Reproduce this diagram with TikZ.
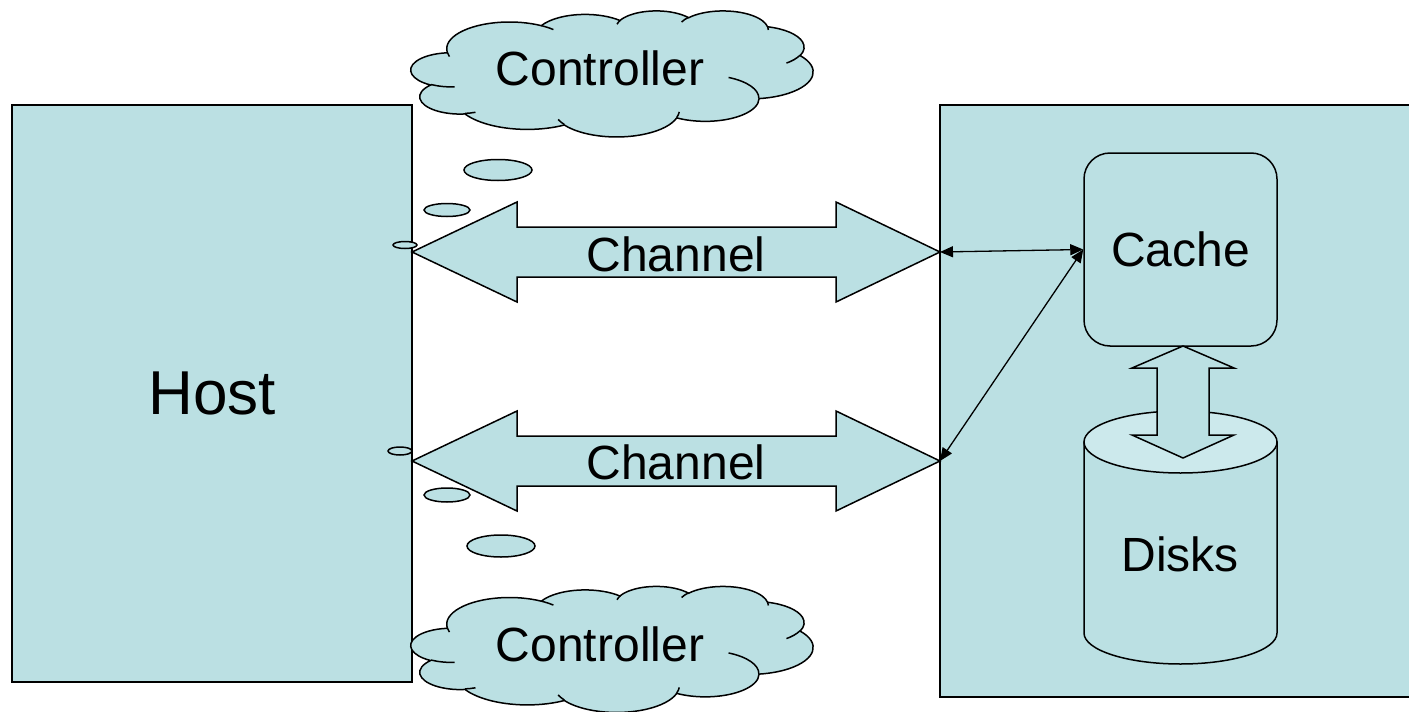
\documentclass[tikz,border=0pt]{standalone}
\usepackage{fontspec}
\setmainfont{Liberation Sans}
\usetikzlibrary{arrows.meta}
\definecolor{boxfill}{RGB}{187,224,227}
\definecolor{toplight}{RGB}{204,233,236}
\tikzset{
  pa/.style n args={4}{x radius=#1, y radius=#2,
    start angle={atan2((#1)*sin(#3),(#2)*cos(#3))},
    delta angle={mod(atan2((#1)*sin((#3)+(#4)),(#2)*cos((#3)+(#4)))-atan2((#1)*sin(#3),(#2)*cos(#3))+720,360)}},
  shapeline/.style={draw=black, line width=1.5pt, fill=boxfill},
  strokeonly/.style={draw=black, line width=1.5pt},
  lbl/.style={font=\fontsize{48}{56}\selectfont, inner sep=0pt},
  conn/.style={line width=1.3pt, {Triangle[length=13pt,width=11pt]}-{Triangle[length=13pt,width=11pt]}},
}
\newcommand\pptcloud[2]{%
  \begin{scope}[shift={(#1,#2)}, x=0.93056pt, y=-0.29167pt]
    \draw[shapeline] (39.00,143.70)
      arc[pa={67.53}{91.90}{-190.48748}{123.78053}]
      arc[pa={53.33}{72.67}{-144.10238}{89.94523}]
      arc[pa={43.65}{59.45}{-145.80792}{99.72302}]
      arc[pa={48.57}{65.95}{-130.98607}{117.24173}]
      arc[pa={53.33}{72.73}{-78.70888}{109.02692}]
      arc[pa={67.75}{92.20}{-46.26725}{130.269}]
      arc[pa={57.85}{78.67}{0.62502}{114.03333}]
      arc[pa={67.52}{92.15}{22.4516}{115.17255}]
      arc[pa={77.20}{105.43}{66.24263}{75.71102}]
      arc[pa={43.60}{59.18}{-274.94208}{146.73557}]
      arc[pa={43.45}{59.45}{-246.8285}{152.51885}]
      -- cycle;
    \draw[strokeonly]
      (46.93,261.77) arc[pa={43.45}{59.45}{86.742}{26.4295}]
      (69.28,348.99) arc[pa={43.60}{59.18}{73.61047}{11.44747}]
      (164.78,390.90) arc[pa={67.52}{92.15}{137.62415}{14.0811}]
      (288.27,347.51) arc[pa={67.52}{92.15}{6.45327}{15.99835}]
      (341.29,229.54) arc[pa={57.85}{78.67}{-70.29235}{70.917}]
      (417.98,153.54) arc[pa={53.33}{72.73}{30.31803}{27.7515}]
      (383.24,54.26) arc[pa={48.57}{65.95}{-13.74433}{14.8589}]
      (290.78,39.52) arc[pa={48.57}{65.95}{-149.18145}{18.19537}]
      (221.41,47.20) arc[pa={43.65}{59.45}{-163.49427}{17.68635}]
      (140.00,51.92) arc[pa={67.53}{91.90}{-66.70695}{12.31935}]
      (41.27,157.89) arc[pa={67.53}{91.90}{157.65435}{11.85817}];
  \end{scope}}
\begin{document}
\begin{tikzpicture}[x=1pt,y=-1pt,line join=miter]
\useasboundingbox (0,0) rectangle (1409,712);
\fill[white] (0,0) rectangle (1409,712);
% Host and storage boxes
\node[shapeline, rectangle, minimum width=400pt, minimum height=577pt, inner sep=0pt,
      font=\fontsize{62}{70}\selectfont] (host) at (212,393.5) {Host};
\node[shapeline, rectangle, minimum width=520pt, minimum height=592pt, inner sep=0pt] (stor) at (1200,401) {};
% Controller clouds
\pptcloud{411}{10.5}
\pptcloud{411}{586}
\node[lbl] (ctrl1) at (600,68) {Controller};
\node[lbl] (ctrl2) at (600,644) {Controller};
% Channel arrows
\coordinate (a1l) at (412,252);
\coordinate (a1r) at (940,252);
\coordinate (a2l) at (412,461);
\coordinate (a2r) at (940,461);
\draw[shapeline] (a1l) -- ++(105,-50) -- ++(0,25) -- ++(319,0) -- ++(0,-25) -- (a1r)
   -- ++(-104,50) -- ++(0,-25) -- ++(-319,0) -- ++(0,25) -- cycle;
\draw[shapeline] (a2l) -- ++(105,-50) -- ++(0,25) -- ++(319,0) -- ++(0,-25) -- (a2r)
   -- ++(-104,50) -- ++(0,-25) -- ++(-319,0) -- ++(0,25) -- cycle;
\node[lbl] (ch1) at (676,254) {Channel};
\node[lbl] (ch2) at (676,462) {Channel};
% thought bubbles
\draw[shapeline] (498,170) ellipse[x radius=34, y radius=10.5];
\draw[shapeline] (447,210) ellipse[x radius=23, y radius=6.5];
\draw[shapeline] (405,245) ellipse[x radius=12, y radius=3.5];
\draw[shapeline] (400,451) ellipse[x radius=12, y radius=4];
\draw[shapeline] (447,495) ellipse[x radius=23, y radius=7];
\draw[shapeline] (501,546) ellipse[x radius=34, y radius=11];
% Cache
\node[shapeline, rectangle, rounded corners=26pt, minimum width=193pt, minimum height=193pt,
      inner sep=0pt, font=\fontsize{48}{56}\selectfont] (cache) at (1180.5,249.5) {Cache};
% connectors
\draw[conn] (a1r) -- (cache.west);
\draw[conn] (a2r) -- (cache.west);
% Disks cylinder
\draw[shapeline] (1084,442) -- (1084,633) arc[x radius=96.5, y radius=31, start angle=180, end angle=0]
   -- (1277,442) -- cycle;
\draw[shapeline, fill=toplight] (1180.5,442) ellipse[x radius=96.5, y radius=31];
\node[lbl] (disks) at (1180,554) {Disks};
% Cache <-> Disks arrow
\coordinate (ut) at (1183,346);
\coordinate (ub) at (1183,458);
\draw[shapeline] (ut) -- ++(51,22) -- ++(-25,0) -- ++(0,67) -- ++(25,0) -- (ub)
   -- ++(-51,-23) -- ++(25,0) -- ++(0,-67) -- ++(-25,0) -- cycle;
\end{tikzpicture}
\end{document}
